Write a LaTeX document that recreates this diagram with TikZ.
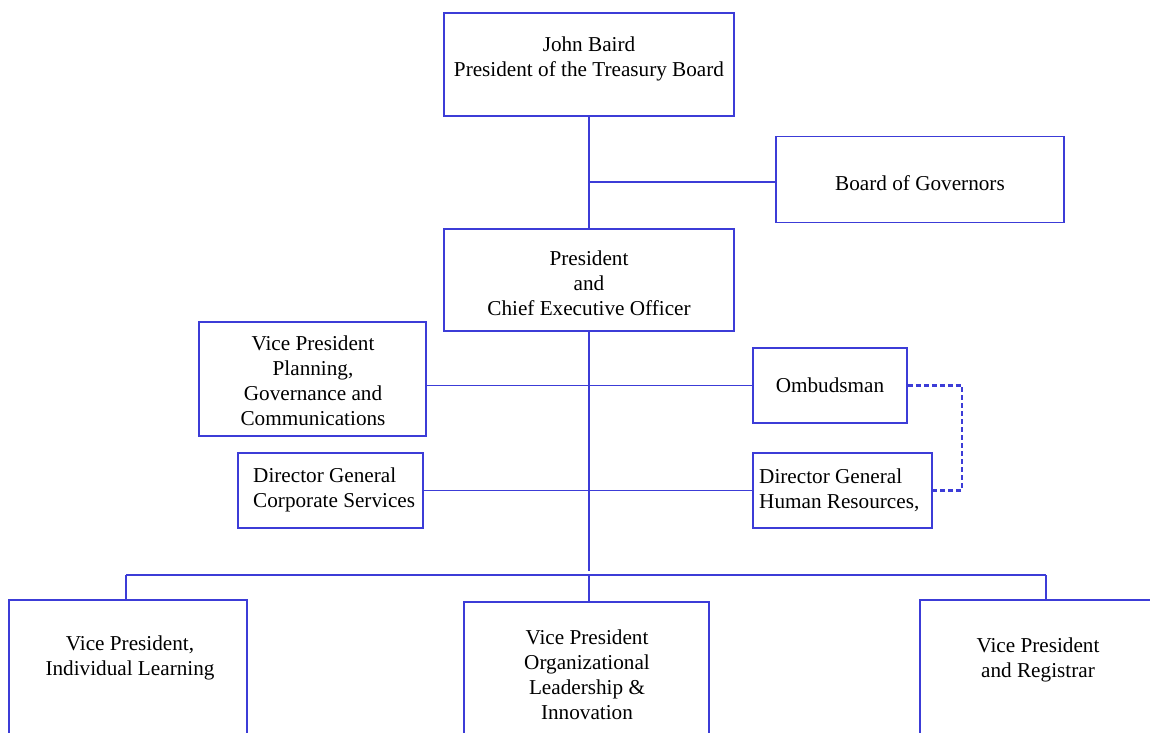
\documentclass[tikz,border=0pt]{standalone}
\usepackage{fontspec}
\setmainfont{Liberation Serif}
\definecolor{orgblue}{RGB}{60,60,215}
\begin{document}
\begin{tikzpicture}[x=1pt,y=-1pt,
  box/.style={draw=orgblue,line width=1.6pt,rectangle,inner sep=0pt},
  lbl/.style={font=\fontsize{21.2}{25}\selectfont,align=center,inner sep=0pt,text=black},
  lbll/.style={lbl,align=left,anchor=west},
  link/.style={draw=orgblue,line width=1.4pt},
  dashlink/.style={draw=orgblue,line width=2.2pt,dash pattern=on 5pt off 3pt}]
\useasboundingbox (0,0) rectangle (1150,732);
\clip (0,0) rectangle (1150,732);
% boxes
\node[box,minimum width=290,minimum height=103] (baird) at (589,64.5) {};
\node[box,minimum width=288,minimum height=86] (bog) at (920,179.5) {};
\node[box,minimum width=290,minimum height=102] (pres) at (589,280) {};
\node[box,minimum width=227,minimum height=114] (vpp) at (312.5,379) {};
\node[box,minimum width=154,minimum height=75] (omb) at (830,385.5) {};
\node[box,minimum width=185,minimum height=75] (dgc) at (330.5,490.5) {};
\node[box,minimum width=179,minimum height=75] (dghr) at (842.5,490.5) {};
\node[box,minimum width=238,minimum height=145] (vpi) at (128,672.5) {};
\node[box,minimum width=245,minimum height=143] (vpo) at (586.5,673.5) {};
\node[box,minimum width=245,minimum height=145] (vpr) at (1042.5,672.5) {};
% texts
\node[lbl] (bairdt) at (589,59) {John Baird\\President of the Treasury Board};
\node[lbl] (bogt) at (920,183) {Board of Governors};
\node[lbl] (prest) at (589,283) {President\\and\\Chief Executive Officer};
\node[lbl] (vppt) at (313,381) {Vice President\\Planning,\\Governance and\\Communications};
\node[lbl] (ombt) at (830,385) {Ombudsman};
\node[lbll] (dgct) at (253,490) {Director General\\Corporate Services};
\node[lbll] (dghrt) at (759,490) {Director General\\Human Resources,};
\node[lbl] (vpit) at (130,658) {Vice President,\\Individual Learning};
\node[lbl] (vpot) at (587,675) {Vice President\\Organizational\\Leadership \&\\Innovation};
\node[lbl] (vprt) at (1038,660) {Vice President\\and Registrar};
% connectors
\coordinate (j1) at (589,182);
\coordinate (trunkend) at (589,571);
\coordinate (bus) at (589,575);
\coordinate (bl) at (126,575);
\coordinate (br) at (1046,575);
\coordinate (dc) at (962,0);
\draw[link] (baird.south) -- (pres.north);
\draw[link] (j1) -- (j1 -| bog.west);
\draw[link] (pres.south) -- (trunkend);
\draw[link] (vpp.east |- omb.west) -- (omb.west);
\draw[link] (dgc.east) -- (dghr.west);
\draw[link] (bl) -- (br);
\draw[link] (bl) -- (bl |- vpi.north);
\draw[link] (bus) -- (bus |- vpo.north);
\draw[link] (br) -- (br |- vpr.north);
\draw[dashlink] (omb.east) -| (dc |- dghr.east) -- (dghr.east);
\end{tikzpicture}
\end{document}
